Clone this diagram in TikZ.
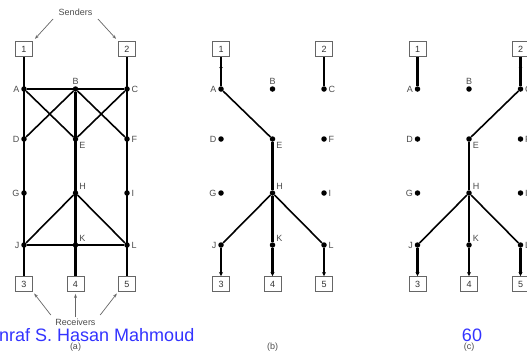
\documentclass[tikz,border=0pt]{standalone}
\usepackage{fontspec}
\setmainfont{Liberation Sans}
\usetikzlibrary{arrows.meta,decorations.markings}
\definecolor{slideblue}{RGB}{51,51,255}
\tikzset{
  box/.style={draw=black!60, line width=0.9pt, fill=white, minimum width=17pt, minimum height=15pt, inner sep=0pt, font=\fontsize{9}{9}\selectfont, text=black!80},
  dot/.style={circle, fill=black, inner sep=0pt, minimum size=5.5pt},
  lab/.style={font=\fontsize{9}{9}\selectfont, text=black!70, inner sep=1.5pt},
  link/.style={line width=1.6pt},
  trunk/.style={line width=2.5pt},
  tip/.style={-{Stealth[length=4pt,width=4pt]}},
  midarrow/.style={postaction={decorate}, decoration={markings, mark=at position 0.45 with {\arrow{Stealth[length=3pt,width=3.5pt]}}}},
  pointer/.style={draw=black!60, line width=0.7pt, -{Stealth[length=4pt,width=3pt]}}
}
\begin{document}
\begin{tikzpicture}[x=1pt,y=-1pt]
\useasboundingbox (0,0) rectangle (527,354);
% one network per panel
\foreach \q/\dx in {a/0,b/197,c/393.5}{
  \node[box] (\q1) at (24+\dx,49) {1};
  \node[box] (\q2) at (127+\dx,49) {2};
  \foreach \n/\x/\y/\p in {A/24/89/left, B/75.5/89/above, C/127/89/right,
                            D/24/139/left, E/75.5/139/below right, F/127/139/right,
                            G/24/193/left, H/75.5/193/above right, I/127/193/right,
                            J/24/245/left, K/75.5/245/above right, L/127/245/right}
    \node[dot, label={[lab]\p:\n}] (\q\n) at (\x+\dx,\y) {};
  \node[box] (\q3) at (24+\dx,284) {3};
  \node[box] (\q4) at (75.5+\dx,284) {4};
  \node[box] (\q5) at (127+\dx,284) {5};
}

\draw[trunk] (a1) -- (a3);
\draw[trunk] (a2) -- (a5);
\draw[trunk] (aB) -- (a4);
\draw[trunk] (aA) -- (aC);
\draw[link] (aA) -- (aE);
\draw[link] (aB) -- (aD);
\draw[link] (aB) -- (aF);
\draw[link] (aC) -- (aE);
\draw[link] (aH) -- (aJ);
\draw[link] (aH) -- (aL);
\draw[link] (aJ) -- (aL);

\draw[trunk, midarrow] (b1) -- (bA);
\draw[trunk] (b2) -- (bC);
\draw[link] (bA) -- (bE);
\draw[trunk] (bE) -- (bH);
\draw[link] (bH) -- (bJ);
\draw[trunk] (bH) -- (bK);
\draw[link] (bH) -- (bL);
\draw[trunk, tip] (bJ) -- (b3);
\draw[trunk, tip] (bK) -- (b4);
\draw[trunk, tip] (bL) -- (b5);

\draw[trunk] (c1) -- (cA);
\draw[trunk, midarrow] (c2) -- (cC);
\draw[link] (cC) -- (cE);
\draw[trunk] (cE) -- (cH);
\draw[link] (cH) -- (cJ);
\draw[trunk] (cH) -- (cK);
\draw[link] (cH) -- (cL);
\draw[trunk, tip] (cJ) -- (c3);
\draw[trunk, tip] (cK) -- (c4);
\draw[trunk, tip] (cL) -- (c5);

\node[lab] (senders) at (75.5,12) {Senders};
\draw[pointer, shorten >=3pt] ([xshift=-4pt,yshift=-2pt]senders.south west) -- (a1.north east);
\draw[pointer, shorten >=3pt] ([xshift=4pt,yshift=-2pt]senders.south east) -- (a2.north west);

\node[font=\fontsize{18}{18}\selectfont, text=slideblue, anchor=base west, inner sep=0pt] (author) at (-1,341) {nraf S. Hasan Mahmoud};
\node[font=\fontsize{18}{18}\selectfont, text=slideblue, anchor=base, inner sep=0pt] (page) at (472,341) {60};

\node[lab] (receivers) at (75.5,322) {Receivers};
\draw[pointer, shorten >=2pt] ([xshift=-3pt,yshift=2pt]receivers.north west) -- (a3.south east);
\draw[pointer, shorten >=2pt] (receivers.north) -- (a4.south);
\draw[pointer, shorten >=2pt] ([xshift=3pt,yshift=2pt]receivers.north east) -- (a5.south west);

\node[lab] (capa) at (75.5,347) {(a)};
\node[lab] (capb) at (272.5,347) {(b)};
\node[lab] (capc) at (469,347) {(c)};
\end{tikzpicture}
\end{document}
